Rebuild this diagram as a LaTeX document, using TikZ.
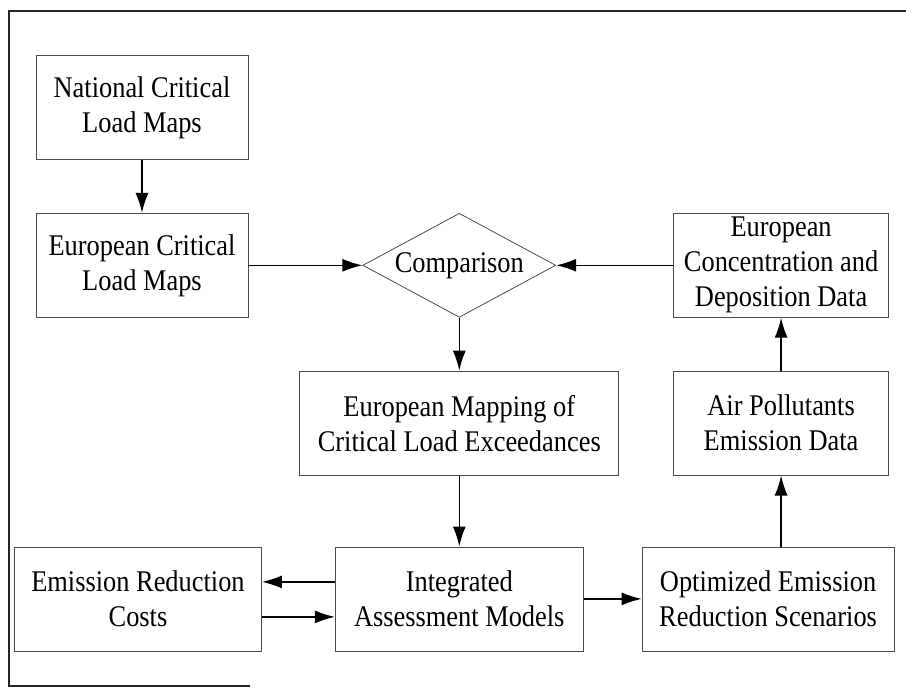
\documentclass[tikz,border=0pt]{standalone}
\usepackage{fontspec}
\setmainfont{Liberation Serif}[FakeStretch=0.88]
\usetikzlibrary{positioning,shapes.geometric,arrows.meta}

\begin{document}
\begin{tikzpicture}[-{Latex[length=20pt,width=13pt]},
					%x=1pt,y=1pt: one pixel of the scan
					x=1pt,y=1pt,
					node distance=53pt,
					line width=1.6pt,
					main node/.style={rectangle,draw=black!70,line width=0.8pt,
					                  align=center,minimum height=104pt,inner sep=0pt,
					                  font=\fontsize{30pt}{35pt}\selectfont},
					test node/.style={main node,diamond,aspect=1.86,minimum width=193pt}]

  \useasboundingbox (0,0) rectangle (906,-688);
  \draw[-,line width=1.8pt,black!85] (906,-11) -- (9,-11) -- (9,-686) -- (250,-686);

  \node[main node,minimum width=212pt] (nat) at (142,-107.5) {National Critical\\Load Maps};
  \node[main node,minimum width=212pt] (eur) [below=of nat] {European Critical\\Load Maps};
  \node[test node] (cmp) [right=114pt of eur] {Comparison};
  \node[main node,minimum width=215pt] (conc) [right=117pt of cmp] {European\\Concentration and\\Deposition Data};
  \node[main node,minimum width=319pt] (map) [below=of cmp] {European Mapping of\\Critical Load Exceedances};
  \node[main node,minimum width=215pt] (air) [below=of conc] {Air Pollutants\\Emission Data};
  \node[main node,minimum width=248pt] (iam) [below=71pt of map] {Integrated\\Assessment Models};
  \node[main node,minimum width=247pt] (erc) [left=73pt of iam] {Emission Reduction\\Costs};
  \node[main node,minimum width=252pt] (opt) [right=58pt of iam] {Optimized Emission\\Reduction Scenarios};

  \path
    (nat) edge (eur)
    (eur) edge (cmp)
    (conc) edge (cmp)
    (cmp) edge (map)
    (air) edge (conc)
    (map) edge (iam)
    (iam) edge (opt)
    ([yshift=17pt]iam.west) edge ([yshift=17pt]erc.east)
    ([yshift=-18pt]erc.east) edge ([yshift=-18pt]iam.west)
    (opt.north -| air.south) edge (air.south);
\end{tikzpicture}
\end{document}
